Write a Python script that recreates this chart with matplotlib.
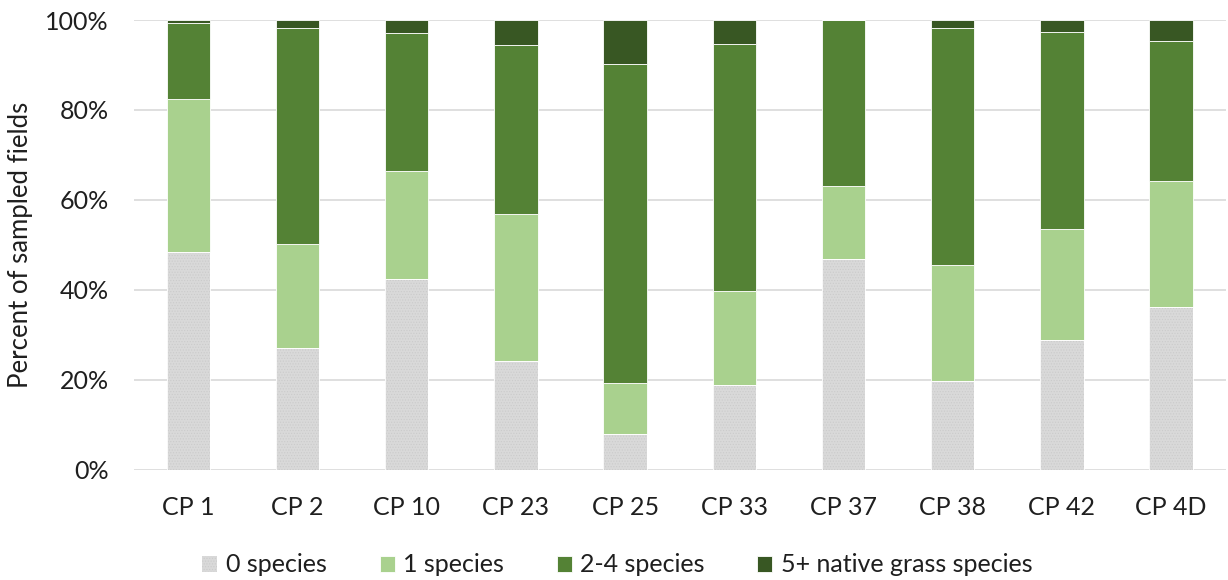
import matplotlib
matplotlib.use("Agg")
import matplotlib.pyplot as plt
import numpy as np
from matplotlib.ticker import PercentFormatter

categories = ["CP 1", "CP 2", "CP 10", "CP 23", "CP 25", "CP 33", "CP 37", "CP 38", "CP 42", "CP 4D"]
zero_species = [48.5, 27.1, 42.4, 24.1, 7.9, 18.8, 46.8, 19.7, 28.8, 36.2]
one_species = [34.0, 23.1, 23.9, 32.7, 11.4, 20.9, 16.3, 25.9, 24.8, 28.0]
two_four_species = [16.8, 48.0, 30.7, 37.6, 70.9, 55.0, 36.9, 52.6, 43.7, 31.1]
five_plus_species = [0.7, 1.8, 3.0, 5.6, 9.8, 5.3, 0.0, 1.8, 2.7, 4.7]
series_names = ["0 species", "1 species", "2-4 species", "5+ native grass species"]
yticks = [0, 20, 40, 60, 80, 100]

colors = ["#d9d9d9", "#a9d18e", "#548235", "#385723"]

plt.rcParams['font.family'] = ['Lato', 'DejaVu Sans']
plt.rcParams['hatch.linewidth'] = 0.5

fig = plt.figure(figsize=(12.28, 5.8), dpi=100)
ax = fig.add_axes([0.1089, 0.1905, 0.8892, 0.775])

x = np.arange(len(categories))
width = 0.397
bottom = np.zeros(len(categories))
data = [zero_species, one_species, two_four_species, five_plus_species]
handles = []
for i, (vals, name, c) in enumerate(zip(data, series_names, colors)):
    vals = np.array(vals)
    if i == 0:
        b = ax.bar(x, vals, width, bottom=bottom, label=name, facecolor=c,
                   edgecolor='#cbcbcb', linewidth=0, hatch='......', zorder=3)
        ax.bar(x, vals, width, bottom=bottom, fill=False, edgecolor='white',
               linewidth=0.6, zorder=3.5)
    else:
        b = ax.bar(x, vals, width, bottom=bottom, label=name, color=c,
                   edgecolor='white', linewidth=0.6, zorder=3)
    handles.append(b)
    bottom += vals

ax.set_xlim(-0.5, len(categories) - 0.5)
ax.set_ylim(0, 100)
ax.set_yticks(yticks)
ax.yaxis.set_major_formatter(PercentFormatter(decimals=0))
ax.grid(axis='y', color='#d9d9d9', linewidth=1.2, zorder=0)
ax.set_axisbelow(True)
for s in ax.spines.values():
    s.set_visible(False)
ax.tick_params(axis='both', length=0, labelsize=18, colors='#1f1f1f')
ax.tick_params(axis='y', pad=18)
ax.tick_params(axis='x', pad=19)
ax.set_xticks(x)
ax.set_xticklabels(categories)
ax.set_ylabel("Percent of sampled fields", fontsize=18.5, color='#1f1f1f')
ax.yaxis.set_label_coords(-0.092, 0.5)

fig.legend(handles=handles, labels=series_names, loc='center', bbox_to_anchor=(0.503, 0.026),
           ncol=4, frameon=False, fontsize=18, handlelength=0.6, handleheight=0.6,
           handletextpad=0.35, columnspacing=2.1, labelcolor='#1f1f1f')

fig.savefig("out.png", dpi=100)
